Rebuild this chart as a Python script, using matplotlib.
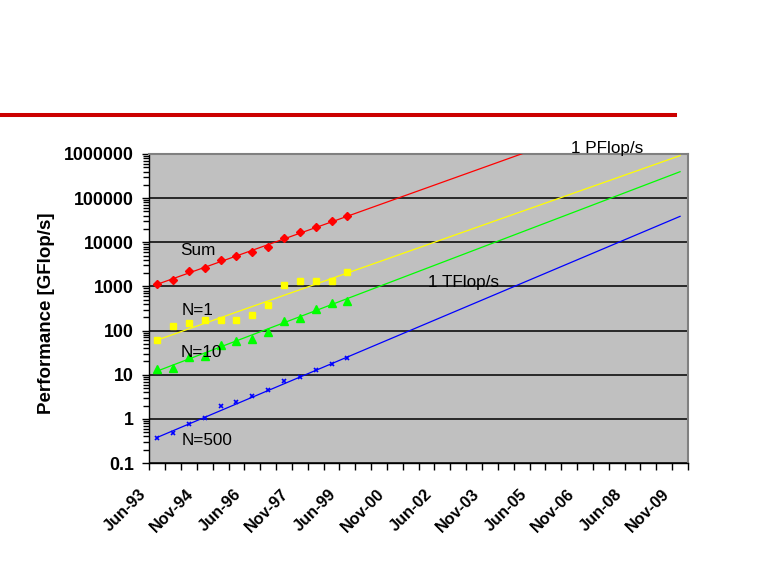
import matplotlib.pyplot as plt
import matplotlib.transforms as mtransforms
from matplotlib.lines import Line2D
from matplotlib.ticker import LogLocator, NullFormatter

plt.rcParams['font.family'] = ['Liberation Sans', 'DejaVu Sans']

# half-year list dates, Jun-93 .. Nov-09 (34 categories)
tick_labels = ['Jun-93', 'Nov-94', 'Jun-96', 'Nov-97', 'Jun-99', 'Nov-00',
               'Jun-02', 'Nov-03', 'Jun-05', 'Nov-06', 'Jun-08', 'Nov-09']
n_periods = 34

# measured TOP500 values, Jun-93 .. Jun-99 (GFlop/s)
sum_perf = [1117, 1422, 2234, 2570, 3900, 4800, 5930, 7940, 12700, 16800, 22500, 29900, 38700]
n1_perf = [60, 127, 148, 171, 170, 170, 221, 373, 1060, 1338, 1338, 1338, 2121]
n10_perf = [13.5, 14.4, 25.2, 26, 47, 58, 64, 93, 162, 189, 308, 414, 475]
n500_perf = [0.374, 0.49, 0.78, 1.06, 1.99, 2.45, 3.29, 4.43, 7.2, 8.87, 12.8, 17.5, 24.3]

# trend lines (start Jun-93, end Nov-09)
trend_x = [0, 33]
sum_trend = [1117, 1.94e7]
n1_trend = [61, 9.2e5]
n10_trend = [12.1, 3.97e5]
n500_trend = [0.38, 38700]

fig = plt.figure(figsize=(7.67, 5.75), dpi=100)
ax = fig.add_axes([149.3 / 767, 1 - 463 / 575, (688 - 149.3) / 767, (463 - 154) / 575])
ax.set_facecolor('#C0C0C0')

x_data = list(range(len(sum_perf)))

ax.plot(trend_x, sum_trend, color='#FF0000', lw=0.9, zorder=3)
ax.plot(trend_x, n1_trend, color='#FFFF00', lw=0.9, zorder=3)
ax.plot(trend_x, n10_trend, color='#00FF00', lw=0.9, zorder=3)
ax.plot(trend_x, n500_trend, color='#0000FF', lw=0.9, zorder=3)

ax.plot(x_data, sum_perf, 'D', color='#FF0000', ms=4.5, zorder=4)
ax.plot(x_data, n1_perf, 's', color='#FFFF00', ms=5, zorder=4)
ax.plot(x_data, n10_perf, '^', color='#00FF00', ms=5.5, zorder=4)
ax.plot(x_data, n500_perf, 'x', color='#0000FF', ms=3.5, mew=1.2, zorder=4)

ax.set_yscale('log')
ax.set_ylim(0.1, 1e6)
ax.set_xlim(-0.5, n_periods - 0.5)

# horizontal gridlines at decades
ax.yaxis.set_major_locator(LogLocator(base=10, numticks=20))
ax.yaxis.set_minor_locator(LogLocator(base=10, subs=range(2, 10), numticks=20))
ax.yaxis.set_minor_formatter(NullFormatter())
ax.set_yticks([0.1, 1, 10, 100, 1000, 10000, 100000, 1000000])
ax.set_yticklabels(['0.1', '1', '10', '100', '1000', '10000', '100000', '1000000'])
ax.grid(axis='y', which='major', color='black', lw=1.1)
ax.set_axisbelow(True)

ax.set_xticks(range(0, n_periods, 3))
ax.set_xticklabels(tick_labels, rotation=45, ha='right', va='top')
ax.set_xticks([i - 0.5 for i in range(n_periods + 1)], minor=True)
ax.tick_params(axis='x', which='major', length=0, pad=17, labelsize=11.7)
ax.tick_params(axis='x', which='minor', length=5, width=1, direction='out')
ax.tick_params(axis='y', which='major', length=5, width=1, pad=6, labelsize=12.8)
ax.tick_params(axis='y', which='minor', length=4, width=1)
shift = mtransforms.ScaledTranslation(-0.08, 0, fig.dpi_scale_trans)
for lab in ax.get_xticklabels():
    lab.set_fontweight('bold')
    lab.set_transform(lab.get_transform() + shift)
for lab in ax.get_yticklabels():
    lab.set_fontweight('bold')

for side in ['top', 'right']:
    ax.spines[side].set_color('#808080')
    ax.spines[side].set_linewidth(1.5)
for side in ['left', 'bottom']:
    ax.spines[side].set_color('black')
    ax.spines[side].set_linewidth(1)

ax.set_ylabel('Performance [GFlop/s]', fontsize=13.5, fontweight='bold')
ax.yaxis.set_label_coords(-0.19, 0.484)
ax.yaxis.label.set_va('center')

lbl = dict(fontsize=12.3, va='baseline', zorder=6)
ax.text(1.48, 5150, 'Sum', **lbl)
ax.text(1.52, 225, 'N=1', **lbl)
ax.text(1.48, 25.6, 'N=10', **lbl)
ax.text(1.55, 0.255, 'N=500', **lbl)
ax.text(17.08, 970, '1 TFlop/s', **lbl)
ax.text(26.1, 1.05e6, '1 PFlop/s', clip_on=False, **lbl)

# red rule of the slide
fig.add_artist(Line2D([0, 675 / 767], [1 - 115 / 575] * 2, color='#CC0000', lw=2.9))

fig.savefig('out.png', dpi=100)
